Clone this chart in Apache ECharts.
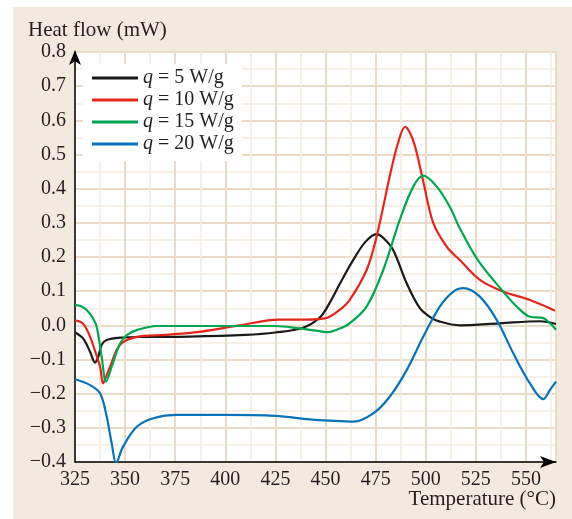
<!DOCTYPE html>
<html>
<head>
<meta charset="utf-8">
<script src="https://cdn.jsdelivr.net/npm/echarts@6/dist/echarts.min.js"></script>
<style>
  html, body { margin: 0; padding: 0; background: #fff; }
  #chart { width: 572px; height: 519px; }
</style>
</head>
<body>
<div id="chart"></div>
<script>
// temperatures (°C) and heat flow (mW)
const temp5 = [325, 329, 332.5, 335, 336.6, 338.3, 340.8, 347.5, 360, 382, 410, 425, 438.8, 447, 452, 457, 463.7, 470, 475.5, 479, 483.8, 490.5, 497, 502, 507, 517, 537, 557, 565];
const flow5 = [-0.021, -0.038, -0.077, -0.109, -0.092, -0.057, -0.043, -0.036, -0.034, -0.033, -0.028, -0.021, -0.007, 0.022, 0.065, 0.12, 0.19, 0.245, 0.267, 0.255, 0.22, 0.123, 0.051, 0.025, 0.011, 0.0, 0.006, 0.012, 0.004];

const temp10 = [325, 329, 332.5, 335, 337.5, 339, 340.5, 342.5, 347.5, 355.8, 370, 387, 407, 427, 440.6, 450.6, 457, 462, 470.5, 475.5, 482, 486, 489.7, 492, 494.7, 498.8, 503.8, 510.5, 517, 527, 538.6, 552, 564.5];
const flow10 = [0.015, 0.005, -0.033, -0.075, -0.121, -0.17, -0.15, -0.121, -0.057, -0.034, -0.028, -0.019, 0.0, 0.017, 0.017, 0.022, 0.045, 0.074, 0.162, 0.26, 0.435, 0.53, 0.581, 0.565, 0.523, 0.42, 0.299, 0.23, 0.191, 0.133, 0.099, 0.074, 0.043];

const temp15 = [325, 328, 330.8, 333.5, 335.8, 338.3, 340.5, 343.3, 347.5, 351, 355.8, 365.8, 400, 425, 437, 447, 451, 456, 462, 470.5, 478.8, 487, 493.8, 498.8, 505.5, 512, 517, 526, 538.6, 545.4, 552, 558.7, 562, 565];
const flow15 = [0.060, 0.056, 0.045, 0.025, -0.004, -0.092, -0.165, -0.121, -0.053, -0.028, -0.014, -0.002, -0.002, -0.002, -0.009, -0.017, -0.020, -0.012, 0.006, 0.055, 0.162, 0.308, 0.406, 0.438, 0.406, 0.347, 0.284, 0.191, 0.099, 0.055, 0.025, 0.021, 0.006, -0.013];

const temp20 = [325, 332.5, 337.5, 340.8, 343.3, 345.5, 349, 355.8, 364, 375.7, 400, 425, 442, 452, 464, 474, 482, 490.5, 498.8, 507, 513.8, 518.8, 527, 535.4, 543.7, 552, 558.7, 562, 565];
const flow20 = [-0.158, -0.175, -0.199, -0.267, -0.345, -0.402, -0.355, -0.297, -0.272, -0.262, -0.262, -0.265, -0.275, -0.279, -0.282, -0.257, -0.209, -0.131, -0.033, 0.055, 0.099, 0.109, 0.084, 0.016, -0.082, -0.17, -0.216, -0.189, -0.165];

const seriesNames = ['q = 5 W/g', 'q = 10 W/g', 'q = 15 W/g', 'q = 20 W/g'];
const seriesColors = ['#1a1a1a', '#e3261c', '#00a650', '#0a72ba'];

const zip = (xs, ys) => xs.map((x, i) => [x, ys[i]]);
const allData = [zip(temp5, flow5), zip(temp10, flow10), zip(temp15, flow15), zip(temp20, flow20)];

const font = '"Liberation Serif", "DejaVu Serif", serif';
const ink = '#231f20';

const option = {
  backgroundColor: '#ffffff',
  animation: false,
  graphic: [
    {
      type: 'rect',
      z: -10,
      silent: true,
      shape: { x: 13, y: 7, width: 572 - 13, height: 519 - 7 },
      style: { fill: '#f2eadf' }
    },
    {
      // x axis title, right-aligned under the arrow
      type: 'text',
      right: 16,
      top: 489,
      silent: true,
      style: {
        text: 'Temperature (°C)',
        fontFamily: font,
        fontSize: 21,
        fill: ink
      }
    }
  ],
  grid: {
    left: 75,
    right: 16,
    top: 52,
    bottom: 57,
    outerBoundsMode: 'none',
    show: true,
    backgroundColor: '#ffffff',
    borderWidth: 0
  },
  legend: {
    orient: 'vertical',
    left: 83,
    top: 64,
    backgroundColor: '#ffffff',
    padding: [4, 8, 7, 9],
    itemGap: 2,
    itemWidth: 46,
    itemHeight: 3,
    icon: 'rect',
    data: seriesNames,
    formatter: (name) => name.replace(/^q/, '{i|q}'),
    textStyle: {
      fontFamily: font,
      fontSize: 20,
      color: ink,
      lineHeight: 20,
      rich: {
        i: { fontFamily: font, fontSize: 20, fontStyle: 'italic', color: ink, lineHeight: 20 }
      }
    }
  },
  xAxis: {
    type: 'value',
    min: 325,
    max: 565,
    interval: 25,
    axisLine: {
      show: true,
      onZero: false,
      lineStyle: { color: '#000', width: 1.5 },
      symbol: ['none', 'arrow'],
      symbolSize: [9, 16],
      symbolOffset: [0, 0]
    },
    axisTick: { show: false },
    axisLabel: {
      showMaxLabel: false,
      margin: 8,
      fontFamily: font,
      fontSize: 20,
      color: ink
    },
    splitLine: { show: true, lineStyle: { color: '#eadbc8', width: 2 } },
    minorTick: { show: false, splitNumber: 2 },
    minorSplitLine: { show: true, lineStyle: { color: '#f5ece1', width: 1.5 } }
  },
  yAxis: {
    type: 'value',
    min: -0.4,
    max: 0.8,
    interval: 0.1,
    name: 'Heat flow (mW)',
    nameLocation: 'end',
    nameGap: 11,
    nameTextStyle: {
      fontFamily: font,
      fontSize: 21,
      color: ink,
      align: 'left',
      padding: [0, 0, 0, -47]
    },
    axisLine: {
      show: true,
      onZero: false,
      lineStyle: { color: '#000', width: 1.5 },
      symbol: ['none', 'arrow'],
      symbolSize: [9, 15],
      symbolOffset: [0, 2]
    },
    axisTick: { show: false },
    axisLabel: {
      margin: 9,
      fontFamily: font,
      fontSize: 20,
      color: ink,
      formatter: (v) => v.toFixed(1).replace('-', '\u2212')
    },
    splitLine: { show: true, lineStyle: { color: '#eadbc8', width: 2 } },
    minorTick: { show: false, splitNumber: 2 },
    minorSplitLine: { show: true, lineStyle: { color: '#f5ece1', width: 1.5 } }
  },
  series: seriesNames.map((name, i) => ({
    name: name,
    type: 'line',
    data: allData[i],
    smooth: 0.35,
    showSymbol: false,
    clip: true,
    color: seriesColors[i],
    lineStyle: { width: 2.2, color: seriesColors[i] }
  }))
};

const chart = echarts.init(document.getElementById('chart'), null, { renderer: 'canvas' });
chart.setOption(option);
</script>
</body>
</html>
